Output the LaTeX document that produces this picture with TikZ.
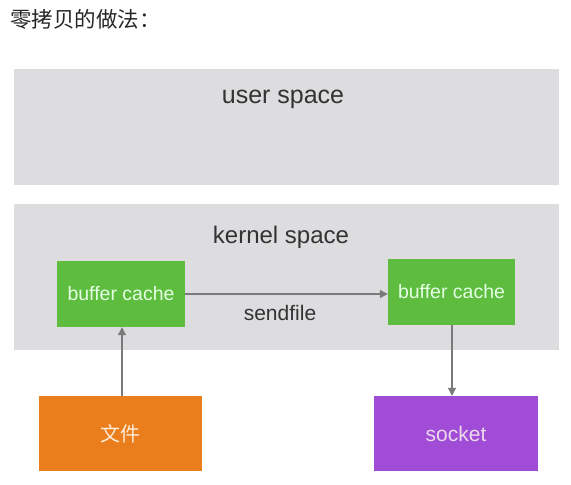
\documentclass[tikz,border=0pt]{standalone}
\usepackage{fontspec}
\setmainfont{Liberation Sans}
\newfontfamily\cjk{Noto Sans CJK SC}
\usetikzlibrary{arrows.meta}
\definecolor{spacegray}{HTML}{DDDCDE}
\definecolor{bufgreen}{HTML}{5EBD3E}
\definecolor{fileorange}{HTML}{EA7E1C}
\definecolor{sockpurple}{HTML}{A04CD6}
\definecolor{arrowgray}{HTML}{7A7A7A}
\definecolor{txtgray}{HTML}{333333}
\tikzset{
  boxnode/.style={draw=none, inner sep=0pt, font=\fontsize{19.5}{22}\selectfont},
  flow/.style={draw=arrowgray, line width=1.2pt, -{Triangle[length=8pt,width=8pt]}},
}
\begin{document}
\begin{tikzpicture}[x=1pt,y=-1pt]
\useasboundingbox (0,0) rectangle (571,485);
\node[anchor=west, inner sep=0pt, font=\cjk\fontsize{21.5}{24}\selectfont, text=black!85] (title) at (10,19) {零拷贝的做法：};
\fill[spacegray] (14,69) rectangle (559,185);
\node[font=\fontsize{25}{28}\selectfont, text=txtgray] (user) at (283,99) {user space};
\fill[spacegray] (14,204) rectangle (559,350);
\node[font=\fontsize{24}{28}\selectfont, text=txtgray] (kernel) at (281,237) {kernel space};
\node[boxnode, fill=bufgreen, minimum width=128pt, minimum height=66pt, text=white!90!green] (buf1) at (121,294) {buffer cache};
\node[boxnode, fill=bufgreen, minimum width=127pt, minimum height=66pt, text=white!90!green] (buf2) at (451.5,292) {buffer cache};
\node[boxnode, fill=fileorange, minimum width=163pt, minimum height=75pt, text=white!85!orange, font=\cjk\fontsize{20}{22}\selectfont] (file) at (120.5,433.5) {文件};
\node[boxnode, fill=sockpurple, minimum width=164pt, minimum height=75pt, text=white!85!violet, font=\fontsize{21}{24}\selectfont] (sock) at (456,433.5) {socket};
\draw[flow] (buf1.east |- 0,294) -- (buf2.west |- 0,294);
\node[font=\fontsize{21}{24}\selectfont, text=txtgray] (send) at (280,313) {sendfile};
\draw[flow] (file.north -| 122,0) -- (buf1.south -| 122,0);
\draw[flow] (buf2.south -| 452,0) -- (sock.north -| 452,0);
\end{tikzpicture}
\end{document}
